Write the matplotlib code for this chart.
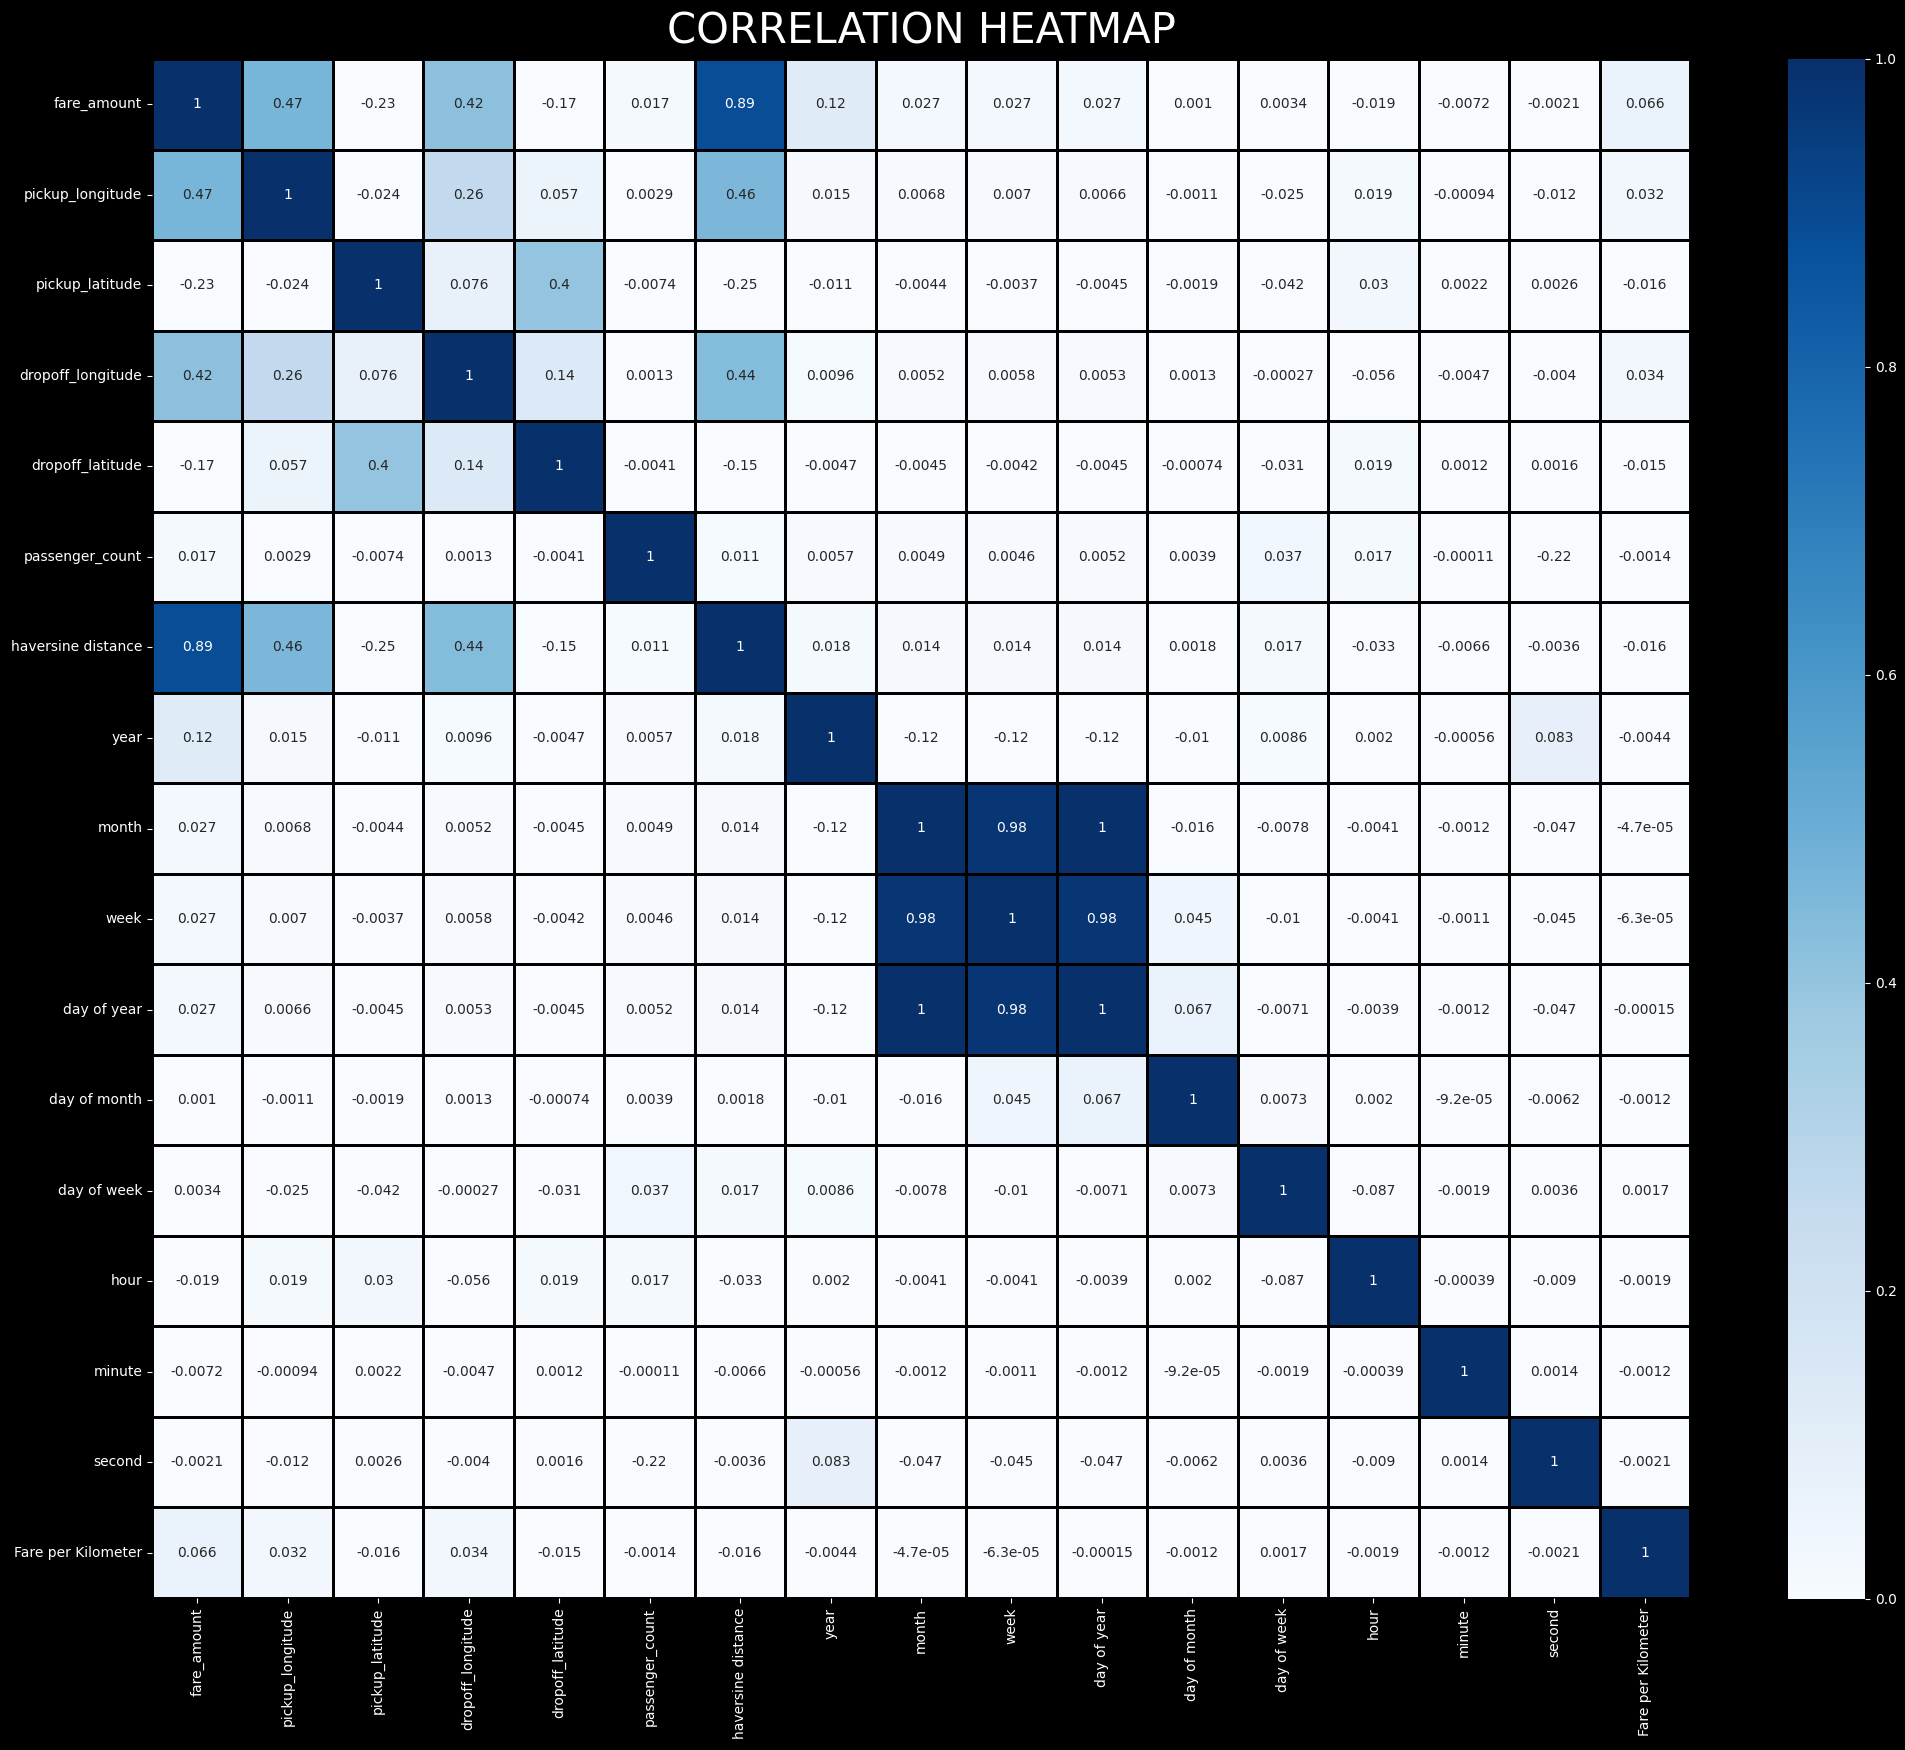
import numpy as np
import pandas as pd
import matplotlib
matplotlib.use("Agg")
import matplotlib.pyplot as plt
import seaborn as sns

labels = ["fare_amount", "pickup_longitude", "pickup_latitude", "dropoff_longitude",
          "dropoff_latitude", "passenger_count", "haversine distance", "year", "month",
          "week", "day of year", "day of month", "day of week", "hour", "minute",
          "second", "Fare per Kilometer"]

r_fare_amount = [1, 0.47, -0.23, 0.42, -0.17, 0.017, 0.89, 0.12, 0.027, 0.027, 0.027, 0.001, 0.0034, -0.019, -0.0072, -0.0021, 0.066]
r_pickup_longitude = [0.47, 1, -0.024, 0.26, 0.057, 0.0029, 0.46, 0.015, 0.0068, 0.007, 0.0066, -0.0011, -0.025, 0.019, -0.00094, -0.012, 0.032]
r_pickup_latitude = [-0.23, -0.024, 1, 0.076, 0.4, -0.0074, -0.25, -0.011, -0.0044, -0.0037, -0.0045, -0.0019, -0.042, 0.03, 0.0022, 0.0026, -0.016]
r_dropoff_longitude = [0.42, 0.26, 0.076, 1, 0.14, 0.0013, 0.44, 0.0096, 0.0052, 0.0058, 0.0053, 0.0013, -0.00027, -0.056, -0.0047, -0.004, 0.034]
r_dropoff_latitude = [-0.17, 0.057, 0.4, 0.14, 1, -0.0041, -0.15, -0.0047, -0.0045, -0.0042, -0.0045, -0.00074, -0.031, 0.019, 0.0012, 0.0016, -0.015]
r_passenger_count = [0.017, 0.0029, -0.0074, 0.0013, -0.0041, 1, 0.011, 0.0057, 0.0049, 0.0046, 0.0052, 0.0039, 0.037, 0.017, -0.00011, -0.22, -0.0014]
r_haversine = [0.89, 0.46, -0.25, 0.44, -0.15, 0.011, 1, 0.018, 0.014, 0.014, 0.014, 0.0018, 0.017, -0.033, -0.0066, -0.0036, -0.016]
r_year = [0.12, 0.015, -0.011, 0.0096, -0.0047, 0.0057, 0.018, 1, -0.12, -0.12, -0.12, -0.01, 0.0086, 0.002, -0.00056, 0.083, -0.0044]
r_month = [0.027, 0.0068, -0.0044, 0.0052, -0.0045, 0.0049, 0.014, -0.12, 1, 0.98, 1, -0.016, -0.0078, -0.0041, -0.0012, -0.047, -4.7e-05]
r_week = [0.027, 0.007, -0.0037, 0.0058, -0.0042, 0.0046, 0.014, -0.12, 0.98, 1, 0.98, 0.045, -0.01, -0.0041, -0.0011, -0.045, -6.3e-05]
r_day_of_year = [0.027, 0.0066, -0.0045, 0.0053, -0.0045, 0.0052, 0.014, -0.12, 1, 0.98, 1, 0.067, -0.0071, -0.0039, -0.0012, -0.047, -0.00015]
r_day_of_month = [0.001, -0.0011, -0.0019, 0.0013, -0.00074, 0.0039, 0.0018, -0.01, -0.016, 0.045, 0.067, 1, 0.0073, 0.002, -9.2e-05, -0.0062, -0.0012]
r_day_of_week = [0.0034, -0.025, -0.042, -0.00027, -0.031, 0.037, 0.017, 0.0086, -0.0078, -0.01, -0.0071, 0.0073, 1, -0.087, -0.0019, 0.0036, 0.0017]
r_hour = [-0.019, 0.019, 0.03, -0.056, 0.019, 0.017, -0.033, 0.002, -0.0041, -0.0041, -0.0039, 0.002, -0.087, 1, -0.00039, -0.009, -0.0019]
r_minute = [-0.0072, -0.00094, 0.0022, -0.0047, 0.0012, -0.00011, -0.0066, -0.00056, -0.0012, -0.0011, -0.0012, -9.2e-05, -0.0019, -0.00039, 1, 0.0014, -0.0012]
r_second = [-0.0021, -0.012, 0.0026, -0.004, 0.0016, -0.22, -0.0036, 0.083, -0.047, -0.045, -0.047, -0.0062, 0.0036, -0.009, 0.0014, 1, -0.0021]
r_fare_per_km = [0.066, 0.032, -0.016, 0.034, -0.015, -0.0014, -0.016, -0.0044, -4.7e-05, -6.3e-05, -0.00015, -0.0012, 0.0017, -0.0019, -0.0012, -0.0021, 1]

rows = [r_fare_amount, r_pickup_longitude, r_pickup_latitude, r_dropoff_longitude,
        r_dropoff_latitude, r_passenger_count, r_haversine, r_year, r_month, r_week,
        r_day_of_year, r_day_of_month, r_day_of_week, r_hour, r_minute, r_second, r_fare_per_km]

corr = pd.DataFrame(rows, index=labels, columns=labels)

plt.rcParams['text.color'] = 'white'
plt.rcParams['xtick.color'] = 'white'
plt.rcParams['ytick.color'] = 'white'
plt.rcParams['axes.labelcolor'] = 'white'

W, H = 1906, 1750
fig = plt.figure(figsize=(W / 100, H / 100), dpi=100, facecolor='black')
ax = fig.add_axes([152 / W, 1 - 1598 / H, (1690 - 152) / W, (1598 - 59) / H])
cax = fig.add_axes([1788 / W, 1 - 1599 / H, (1865 - 1788) / W, (1599 - 59) / H])

sns.heatmap(corr, ax=ax, cbar_ax=cax, cmap='Blues', vmin=0, vmax=1, annot=True,
            linewidths=2, linecolor='black', annot_kws={'fontsize': 10})

ax.tick_params(labelsize=10, colors='white')
ax.set_xticklabels(labels, rotation=90, color='white')
ax.set_yticklabels(labels, rotation=0, color='white')
cax.tick_params(labelsize=10, colors='white')
cax.yaxis.set_ticks([0, 0.2, 0.4, 0.6, 0.8, 1.0])

fig.text(921 / W, 1 - 43 / H, 'CORRELATION HEATMAP', ha='center', va='baseline',
         fontsize=30, color='white')

fig.savefig('out.png', dpi=100, facecolor='black')
